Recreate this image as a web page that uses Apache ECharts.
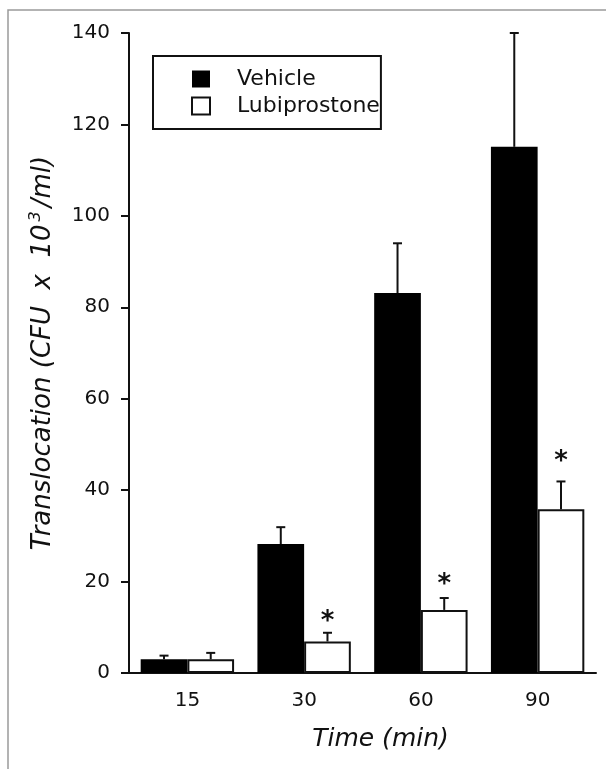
<!DOCTYPE html>
<html>
<head>
<meta charset="utf-8">
<script src="https://cdn.jsdelivr.net/npm/echarts@6/dist/echarts.min.js"></script>
<style>
  html, body { margin: 0; padding: 0; background: #fff; }
  #main { width: 606px; height: 769px; }
</style>
</head>
<body>
<div id="main"></div>
<script>
  // time points (min)
  const categories = ['15', '30', '60', '90'];
  // translocation, CFU x 10^3/ml
  const vehicleMean = [3.0, 28.2, 83.1, 115.1];
  const vehicleErr = [0.8, 3.7, 10.9, 24.9];
  const lubiMean = [3.0, 6.9, 13.8, 35.8];
  const lubiErr = [1.4, 1.9, 2.6, 6.1];
  // significance marks and the height (data units) they sit at
  const sigMarks = ['', '*', '*', '*'];
  const sigHeight = [0, 12.5, 20.6, 47.5];
  const yTicks = { min: 0, max: 140, step: 20 };

  const font = 'DejaVu Sans';
  const ink = '#111';

  // error bar drawn at the centre of one of the two bars in a group
  function errorBars(side, means, errs, marks, markY) {
    const data = categories.map((c, i) => [i, means[i], errs[i], marks ? marks[i] : '', markY ? markY[i] : 0]);
    return {
      type: 'custom',
      name: 'err' + side,
      z: 5,
      data: data,
      renderItem: function (params, api) {
        const i = api.value(0);
        const band = api.size([1, 0])[0];
        const base = api.coord([i, api.value(1)]);
        const top = api.coord([i, api.value(1) + api.value(2)]);
        const x = base[0] + side * band * 0.2;
        const children = [
          { type: 'line', shape: { x1: x, y1: base[1], x2: x, y2: top[1] },
            style: { stroke: ink, lineWidth: 2 } },
          { type: 'line', shape: { x1: x - 4.5, y1: top[1], x2: x + 4.5, y2: top[1] },
            style: { stroke: ink, lineWidth: 2 } }
        ];
        const mark = data[params.dataIndex][3];
        if (mark) {
          const p = api.coord([i, data[params.dataIndex][4]]);
          children.push({ type: 'text', x: x, y: p[1] + 6,
            style: { text: mark, fill: ink, font: 'bold 26px "' + font + '"',
              align: 'center', verticalAlign: 'middle' } });
        }
        return { type: 'group', children: children };
      }
    };
  }

  const chart = echarts.init(document.getElementById('main'));
  chart.setOption({
    animation: false,
    backgroundColor: '#fff',
    textStyle: { fontFamily: font, color: ink },
    graphic: [{
      type: 'rect', shape: { x: 8, y: 10, width: 700, height: 800 },
      style: { fill: 'none', stroke: '#9a9a9a', lineWidth: 1.5 }, silent: true
    }],
    grid: { left: 129, right: 10, top: 33, bottom: 96 },
    legend: {
      data: ['Vehicle', 'Lubiprostone'],
      orient: 'vertical',
      left: 153, top: 56,
      padding: [12, 1, 12, 38],
      itemWidth: 18, itemHeight: 17, itemGap: 5,
      icon: 'rect',
      borderColor: ink, borderWidth: 2,
      textStyle: { fontFamily: font, fontSize: 22, color: ink, padding: [0, 0, 0, 22] }
    },
    xAxis: {
      type: 'category',
      data: categories,
      name: 'Time (min)',
      nameLocation: 'middle',
      nameGap: 54,
      nameTextStyle: { fontFamily: font, fontSize: 25, fontStyle: 'italic', color: ink, padding: [0, 0, 0, 36] },
      axisLine: { lineStyle: { color: ink, width: 2 } },
      axisTick: { length: 12, lineStyle: { color: ink, width: 2 } },
      axisLabel: { fontFamily: font, fontSize: 20, color: ink, margin: 18 }
    },
    yAxis: {
      type: 'value',
      min: yTicks.min, max: yTicks.max, interval: yTicks.step,
      name: 'Translocation (CFU  x  10{sup|3}/ml)',
      nameLocation: 'middle',
      nameRotate: 90,
      nameGap: 71,
      nameTextStyle: {
        fontFamily: font, fontSize: 26, fontStyle: 'italic', color: ink,
        rich: { sup: { fontFamily: font, fontSize: 16, fontStyle: 'italic', color: ink, verticalAlign: 'top', padding: [0, 4, 14, 3] } }
      },
      splitLine: { show: false },
      axisLine: { show: true, lineStyle: { color: ink, width: 2 } },
      axisTick: { show: true, length: 8, lineStyle: { color: ink, width: 2 } },
      axisLabel: { fontFamily: font, fontSize: 20, color: ink, margin: 19 }
    },
    series: [
      {
        name: 'Vehicle', type: 'bar', data: vehicleMean,
        barWidth: '40%', barGap: 0,
        itemStyle: { color: '#000' }
      },
      {
        name: 'Lubiprostone', type: 'bar', data: lubiMean,
        barWidth: '40%', barGap: 0,
        itemStyle: { color: '#fff', borderColor: ink, borderWidth: 2 }
      },
      errorBars(-1, vehicleMean, vehicleErr),
      errorBars(1, lubiMean, lubiErr, sigMarks, sigHeight)
    ]
  });
</script>
</body>
</html>
